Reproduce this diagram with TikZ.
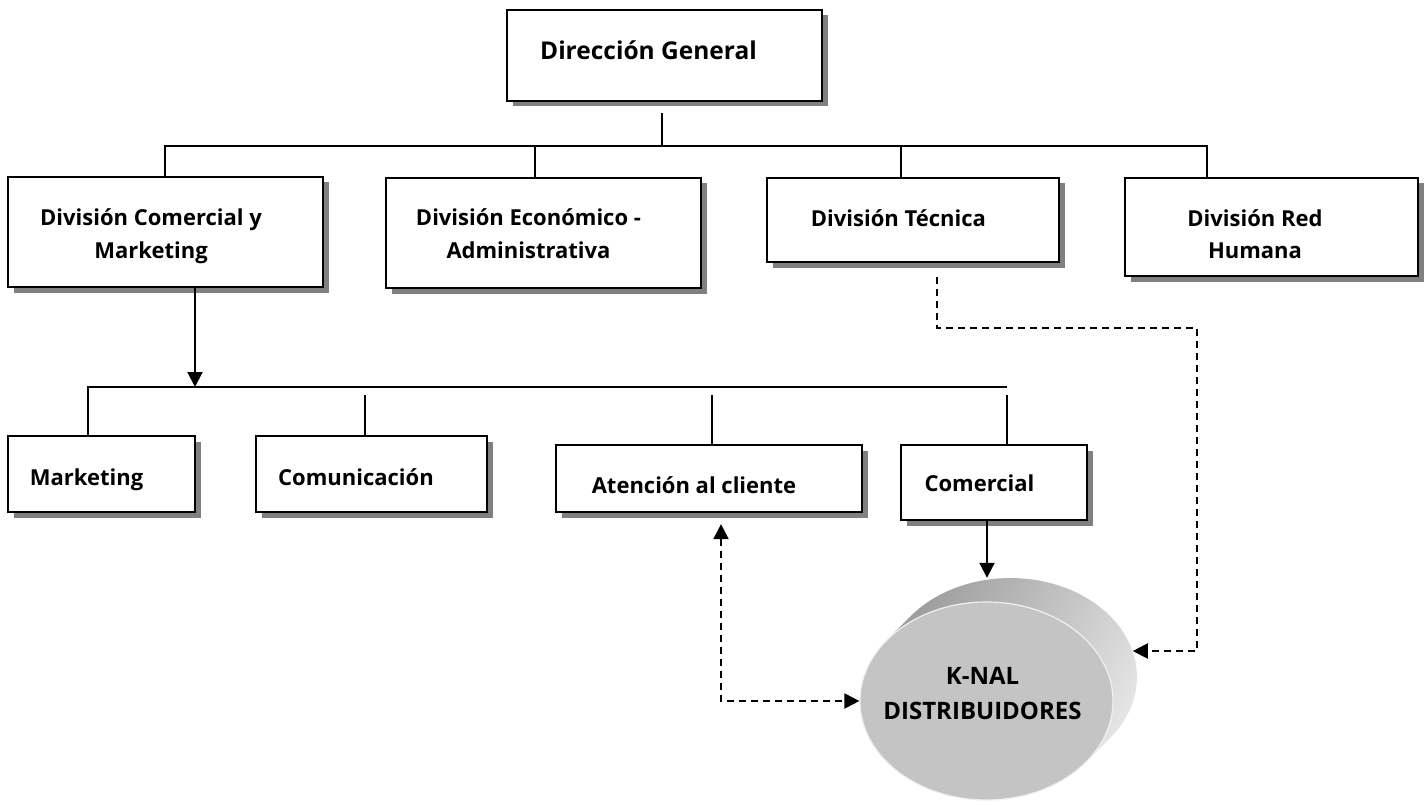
\documentclass[tikz,border=0pt]{standalone}
\usepackage{fontspec}
\setmainfont{Open Sans}
\usetikzlibrary{shapes.geometric,arrows.meta,shadows}
\newcommand\bt[3]{\raisebox{#2}[0pt][0pt]{\makebox[0pt][c]{\hspace*{#1}\begin{tabular}[t]{@{}c@{}}#3\end{tabular}\hspace*{-#1}}}}
\begin{document}
\begin{tikzpicture}[x=1pt,y=1pt,
  box/.style={draw=black, line width=2.2pt, fill=white, rectangle, inner sep=0pt,
    general shadow={fill=black!50, shadow xshift=5.5pt, shadow yshift=-5.5pt}},
  lbl/.style={font=\bfseries\fontsize{22}{33}\selectfont},
  biglbl/.style={font=\bfseries\fontsize{24.5}{33}\selectfont},
  conn/.style={line width=2pt},
  tip/.tip={Triangle[length=15pt,width=15pt]},
  arr/.style={conn, -tip},
  dsh/.style={conn, dash pattern=on 7pt off 5pt},
]
\useasboundingbox (0,0) rectangle (1424,-805);
\fill[white] (0,0) rectangle (1424,-805);

% boxes
\node[box, biglbl, minimum width=315pt, minimum height=91pt] (dg) at (664.5,-55.5) {\bt{-16pt}{-4.5pt}{Dirección General}};
\node[box, lbl, minimum width=315pt, minimum height=110pt] (dc) at (165.5,-232) {\bt{-14.5pt}{6pt}{División Comercial y\\Marketing}};
\node[box, lbl, minimum width=315pt, minimum height=110pt] (de) at (543.5,-233) {\bt{-15pt}{7.3pt}{División Económico -\\Administrativa}};
\node[box, lbl, minimum width=292pt, minimum height=84pt] (dt) at (913,-220) {\bt{-14.6pt}{-6.7pt}{División Técnica}};
\node[box, lbl, minimum width=293pt, minimum height=98pt] (drh) at (1271.5,-227) {\bt{-16.5pt}{1pt}{División Red\\Humana}};
\node[box, lbl, minimum width=187pt, minimum height=76pt] (mk) at (101.5,-474) {\bt{-15pt}{-11pt}{Marketing}};
\node[box, lbl, minimum width=231pt, minimum height=76pt] (cm) at (371.5,-474) {\bt{-15.5pt}{-11pt}{Comunicación}};
\node[box, lbl, minimum width=306pt, minimum height=67pt] (at) at (709,-478.5) {\bt{-15pt}{-14.5pt}{Atención al cliente}};
\node[box, lbl, minimum width=186pt, minimum height=75pt] (co) at (994,-482.5) {\bt{-14.5pt}{-8.5pt}{Comercial}};

% cylinder K-NAL
\node[ellipse, draw=none, minimum width=253pt, minimum height=198pt, inner sep=0pt] (kb) at (1010.5,-677) {};
\shade[top color=black!42, bottom color=black!8, shading angle=60]
  (1086.1,-762) -- (1110.1,-738)
  arc[start angle=-38, end angle=142, x radius=126.5, y radius=99]
  -- (886.9,-640)
  arc[start angle=142, end angle=322, x radius=126.5, y radius=99] -- cycle;
\node[ellipse, fill=black!23, draw=black!6, line width=1.2pt, minimum width=253pt, minimum height=198pt, inner sep=0pt,
  font=\bfseries\fontsize{24}{35}\selectfont] (kn) at (986.5,-701) {\bt{-4pt}{17pt}{K-NAL\\DISTRIBUIDORES}};

% level 1 connectors
\coordinate (b1) at (662,-146);
\draw[conn] ([xshift=-2.5pt,yshift=-11pt]dg.south) -- (b1);
\draw[conn] ([xshift=-0.5pt]dc.north) |- (b1) -| ([xshift=-64.5pt]drh.north);
\draw[conn] ([xshift=-8.5pt]de.north) |- (b1);
\draw[conn] ([xshift=-12pt]dt.north) |- (b1);

% level 2 connectors
\coordinate (b2) at (195,-387);
\coordinate (b2R) at (1007,-387);
\draw[arr] ([xshift=29.5pt]dc.south) -- (b2);
\draw[conn] ([xshift=-13.5pt]mk.north) |- (b2R);
\draw[conn] ([xshift=-6.5pt]cm.north) -- ++(0,40);
\draw[conn] ([xshift=3pt]at.north) -- ++(0,49);
\draw[conn] ([xshift=13pt]co.north) -- ++(0,49);

% to K-NAL
\coordinate (coA) at ([xshift=-7pt]co.south);
\draw[arr] (coA) -- (coA |- kb.north);
\coordinate (dtS) at ([xshift=24pt,yshift=-14pt]dt.south);
\coordinate (dtC) at (1197,-328);
\draw[dsh, -tip] (dtS) |- (dtC) |- (kb.12);
\coordinate (atS) at ([xshift=12pt,yshift=-11pt]at.south);
\draw[dsh, tip-tip] (atS) |- (kn.west);
\end{tikzpicture}
\end{document}
